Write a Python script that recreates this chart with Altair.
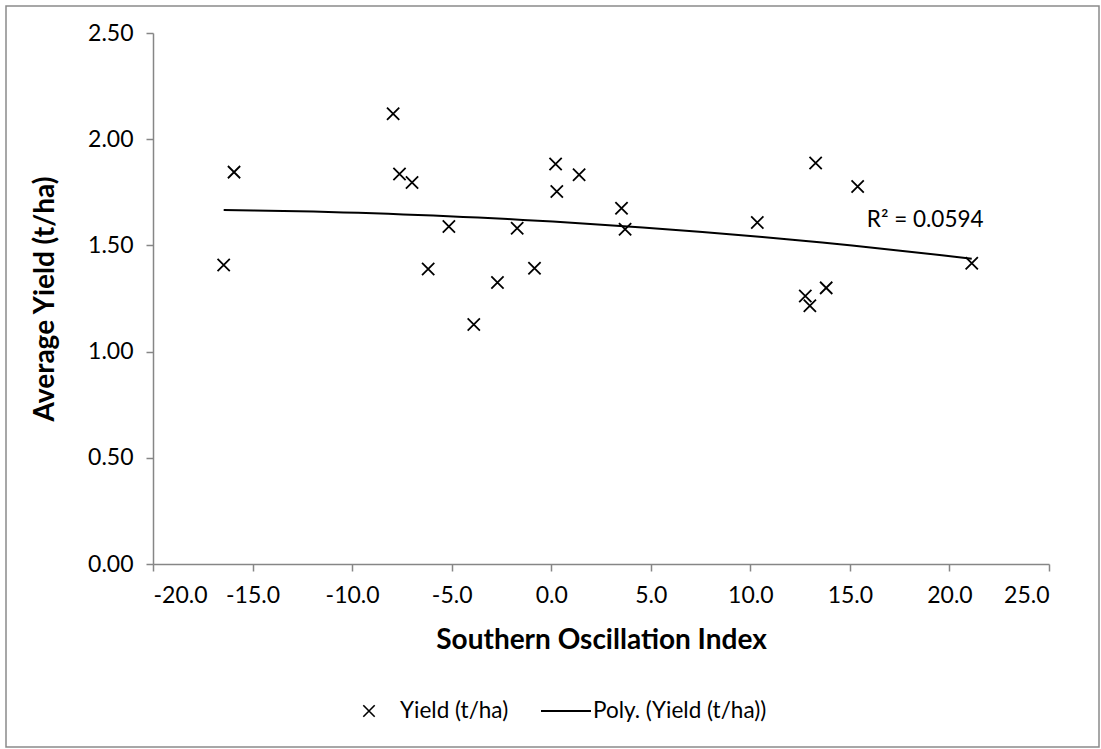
import altair as alt
import pandas as pd

# Southern Oscillation Index (x) and average yield in t/ha (y)
soi = [-16.45, -15.93, -7.94, -7.62, -6.99, -6.18, -5.14, -3.89, -2.70, -1.71,
       -0.84, 0.22, 0.28, 1.40, 3.53, 3.71, 10.35, 12.76, 12.99, 13.28,
       13.81, 15.39, 21.12]
yield_tha = [1.408, 1.845, 2.120, 1.836, 1.796, 1.389, 1.589, 1.128, 1.325, 1.581,
             1.392, 1.883, 1.754, 1.833, 1.675, 1.576, 1.608, 1.262, 1.216, 1.888,
             1.300, 1.777, 1.416]

x_ticks = [-20, -15, -10, -5, 0, 5, 10, 15, 20, 25]
y_ticks = [0.0, 0.5, 1.0, 1.5, 2.0, 2.5]
series_labels = ["Yield (t/ha)", "Poly. (Yield (t/ha))"]
r2_label = "R\u00b2 = 0.0594"
x_title = "Southern Oscillation Index"
y_title = "Average Yield (t/ha)"

FONT = "Lato"
AXIS_GRAY = "#868686"
X_SHAPE = "M-1,-1L1,1M-1,1L1,-1"

df = pd.DataFrame({"soi": soi, "yield": yield_tha})

W, H = 896, 531

x_scale = alt.Scale(domain=[-20, 25], nice=False, zero=False)
y_scale = alt.Scale(domain=[0, 2.5], nice=False)

x_enc = alt.X("soi:Q", scale=x_scale,
              axis=alt.Axis(values=x_ticks,
                            labelExpr="replace(format(datum.value, '.1f'), '\u2212', '-')",
                            title=x_title,
                            grid=False, titleX=W / 2, titleY=76,
                            titleBaseline="middle", titleAlign="center"))
y_enc = alt.Y("yield:Q", scale=y_scale,
              axis=alt.Axis(values=y_ticks, format=".2f", title=y_title,
                            grid=False, titleX=-108, titleY=H / 2,
                            titleAngle=-90, titleBaseline="middle",
                            titleAlign="center"))

points = alt.Chart(df).mark_point(
    shape=X_SHAPE, filled=False, stroke="black", strokeWidth=1.8, size=150,
    opacity=1
).encode(x=x_enc, y=y_enc)

trend = alt.Chart(df).transform_regression(
    "soi", "yield", method="poly", order=2
).mark_line(color="black", strokeWidth=2).encode(
    x=alt.X("soi:Q", scale=x_scale),
    y=alt.Y("yield:Q", scale=y_scale),
)

r2 = alt.Chart(pd.DataFrame({"soi": [15.85], "yield": [1.62], "t": [r2_label]})).mark_text(
    align="left", baseline="middle", font=FONT, fontSize=22.5, color="#000000"
).encode(x=alt.X("soi:Q", scale=x_scale), y=alt.Y("yield:Q", scale=y_scale), text="t:N")

# legend (below the plot)
leg_df = pd.DataFrame({"a": [0]})
leg_y = 678
leg_sym = alt.Chart(leg_df).mark_point(
    shape=X_SHAPE, filled=False, stroke="black", strokeWidth=1.6, size=130, opacity=1
).encode(x=alt.value(216), y=alt.value(leg_y))
leg_t1 = alt.Chart(leg_df).mark_text(
    align="left", baseline="middle", font=FONT, fontSize=22.5, color="#000000",
    text=series_labels[0]
).encode(x=alt.value(247), y=alt.value(leg_y))
leg_line = alt.Chart(leg_df).mark_rule(color="black", strokeWidth=2).encode(
    x=alt.value(388), x2=alt.value(438), y=alt.value(leg_y))
leg_t2 = alt.Chart(leg_df).mark_text(
    align="left", baseline="middle", font=FONT, fontSize=22.5, color="#000000",
    text=series_labels[1]
).encode(x=alt.value(440), y=alt.value(leg_y))

border = alt.Chart(leg_df).mark_rect(
    fillOpacity=0, stroke="#8a8a8a", strokeWidth=1.5
).encode(x=alt.value(-147), x2=alt.value(946), y=alt.value(-27), y2=alt.value(714))

chart = alt.layer(
    border, trend, points, r2, leg_sym, leg_t1, leg_line, leg_t2
).properties(
    width=W, height=H,
    autosize=alt.AutoSizeParams(type="none"),
    padding={"left": 153, "top": 33, "right": 52, "bottom": 185},
    background="white",
).configure_view(
    stroke=None
).configure_axis(
    domainColor=AXIS_GRAY, domainWidth=1.5, tickColor=AXIS_GRAY, tickWidth=1.5,
    tickSize=7, labelFont=FONT, labelFontSize=23, labelColor="#000000",
    labelPadding=13, titleFont=FONT, titleFontSize=28, titleFontWeight="bold",
    titleColor="#000000",
)

chart.save("out.html", embed_options={"renderer": "svg", "actions": False})
